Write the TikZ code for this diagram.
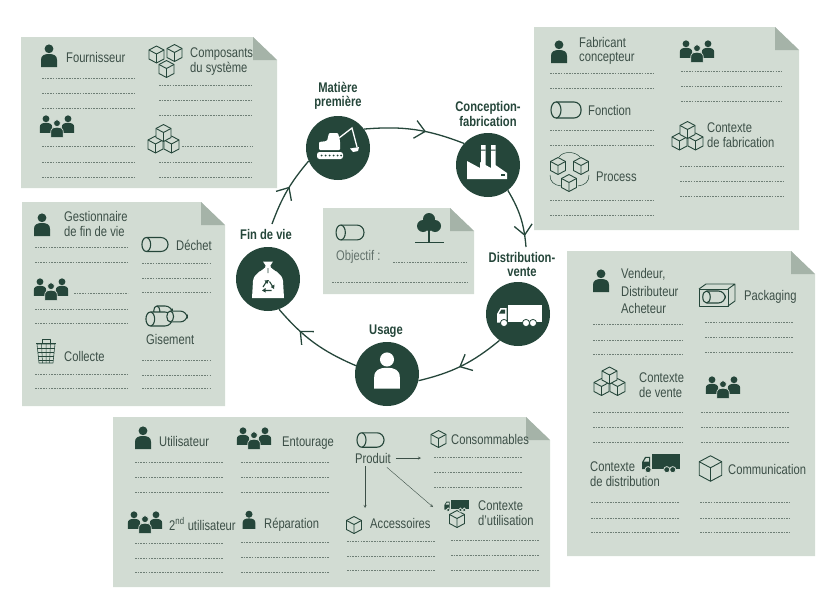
\documentclass[tikz,border=0pt]{standalone}
\usepackage{fontspec}
\setmainfont{Liberation Sans}[FakeStretch=0.8]
\usetikzlibrary{decorations.markings}

\definecolor{dark}{HTML}{25463A}
\definecolor{paper}{HTML}{D2DCD3}
\definecolor{fold}{HTML}{A5B3A8}
\definecolor{ink}{HTML}{3C4F47}
\definecolor{rulecol}{HTML}{6E7E75}

\tikzset{
	>=stealth,
	lbl/.style={anchor=west, inner sep=0pt, align=left, text=ink, font=\fontsize{14}{14.5}\selectfont},
	stagelbl/.style={inner sep=0pt, align=center, text=dark, font=\fontsize{14}{14.5}\selectfont\bfseries},
	stage/.style={circle, fill=dark, inner sep=0pt, minimum size=64pt},
	cyc/.style={draw=dark, line width=1.3pt, decoration={markings, mark=at position #1 with
		{\draw [dark, line width=1.3pt, line join=miter] (-10pt,-9pt) -- (0pt,0pt) -- (-10pt,9pt);}}, postaction={decorate}},
	rule/.style={draw=rulecol, line width=.5pt, dash pattern=on 1.6pt off 1.1pt},
	ico/.style={draw=dark, line width=.9pt, line join=round},
	dk/.style={fill=dark},
	person/.pic={
		\path [pic actions] (0,-7.2) circle (4.4);
		\path [pic actions] (-8,11) -- (-8,4) .. controls (-8,-.5) and (-5,-2) .. (0,-2)
			.. controls (5,-2) and (8,-.5) .. (8,4) -- (8,11) -- cycle;
	},
	crowd/.pic={
		\pic [dk, scale=.78] at (-11,-2.6) {person};
		\pic [dk, scale=.78] at (11,-2.6) {person};
		\pic [dk, draw=paper, line width=.7pt, scale=.78] at (0,1.8) {person};
	},
	cube/.pic={
		\draw [ico, fill=paper] (0,-8.5)--(7.5,-4.5)--(7.5,4.5)--(0,8.5)--(-7.5,4.5)--(-7.5,-4.5)--cycle;
		\draw [ico] (-7.5,-4.5)--(0,-.5)--(7.5,-4.5) (0,-.5)--(0,8.5);
	},
	stack/.pic={
		\pic at (-8,5.5) {cube};
		\pic at (8,5.5) {cube};
		\pic at (0,-6) {cube};
	},
	cyl/.pic={
		\draw [ico, line width=1.1pt, fill=paper, rounded corners=7pt] (-10,-8) -- (15,-8) -- (15,8) -- (-10,8);
		\draw [ico, line width=1.1pt, fill=paper] (-10,0) ellipse (5 and 8);
	},
	pics/truck/.style 2 args={code={
		\fill [#1] (-10,-9) rectangle (24,8);
		\fill [#1] (-21,8.5) -- (-21,0) -- (-17.5,-6) -- (-11.5,-6) -- (-11.5,8.5) -- cycle;
		\fill [#2] (-19,-.5) -- (-16.5,-4.5) -- (-13,-4.5) -- (-13,-.5) -- cycle;
		\foreach \wx in {-14,8,15}
			\draw [fill=#1, draw=#2, line width=.8pt] (\wx,9) circle (3.6);
	}},
}
\newcommand\sheet[4]{
	\fill [paper] (#1,#2) -- ({#3-24},#2) -- (#3,{#2+23}) -- (#3,#4) -- (#1,#4) -- cycle;
	\fill [fold] ({#3-24},#2) -- (#3,{#2+23}) -- ({#3-24},{#2+23}) -- cycle;
}

\begin{document}
\begin{tikzpicture}[x=1pt,y=-1pt]
	\useasboundingbox (0,0) rectangle (836,608);

	\sheet{21}{37}{277}{188}
	\sheet{534}{27}{799}{230}
	\sheet{22}{202}{225}{406}
	\sheet{323}{208}{474}{294}
	\sheet{113}{417}{550}{587}
	\sheet{567}{251}{815}{556}

	\foreach \xa/\xb/\yy in {
		42/135/78, 42/135/93, 42/135/108, 42/135/146, 42/135/162, 42/135/177,
		159/253/85, 159/253/100, 159/253/115, 182/253/146, 159/253/162, 159/253/177,
		550/654/73, 550/654/88, 550/654/130, 550/654/145, 550/654/200, 550/654/215,
		681/782/71, 681/782/86, 681/782/101, 680/785/166, 680/785/181, 680/785/196,
		35/128/247, 35/128/262, 74/128/293, 35/128/309, 35/128/323, 35/128/374, 35/128/388,
		142/211/263, 142/211/278, 142/211/292, 142/211/360, 142/211/375, 142/211/388,
		393/466/262, 332/468/282,
		135/224/462, 135/224/477, 135/224/492, 135/224/543, 135/224/558, 135/224/572,
		241/330/462, 241/330/477, 241/330/492, 241/330/542, 241/330/557, 241/330/572,
		434/523/457, 434/523/472, 434/523/487,
		347/436/541, 347/436/556, 347/436/570,
		451/540/540, 451/540/555, 451/540/570,
		593/683/324, 593/683/340, 593/683/354, 593/683/412, 593/683/427, 593/683/442,
		705/794/322, 705/794/337, 705/794/352,
		701/790/412, 701/790/427, 701/790/442,
		591/680/502, 591/680/518, 591/680/532,
		700/790/502, 700/790/518, 700/790/532
	}
		\draw [rule] (\xa,\yy) -- (\xb,\yy);

	\node at (338,148) [stage] (mat) {};
	\node at (488,165) [stage] (conc) {};
	\node at (518,314) [stage] (dist) {};
	\node at (387,374) [stage] (usage) {};
	\node at (268,279) [stage] (fin) {};

	\node at (338,96) [stagelbl] (matl) {Matière\\première};
	\node at (488,114) [stagelbl] (concl) {Conception-\\fabrication};
	\node at (522,264.5) [stagelbl] (distl) {Distribution-\\vente};
	\node at (386,331) [stagelbl] (usagel) {Usage};
	\node at (266,234) [stagelbl] (finl) {Fin de vie};

	\coordinate (distin) at (526,247);
	\coordinate (finout) at (272,224);
	\draw [cyc=.6] (mat.36) to [bend left=13] (conc.138);
	\draw [cyc=.8] (conc.-52) to [bend left=13] (distin);
	\draw [cyc=.52] (dist.-125) to [bend left=13] (usage.-12);
	\draw [cyc=.68] (usage.165) to [bend left=13] (fin.-70);
	\draw [cyc=.55] (finout) to [bend left=10] (mat.-156);

	% excavator
	\begin{scope}[shift={(mat.center)}]
		\fill [white, rounded corners=2.5pt] (-21,4) rectangle (5,11);
		\foreach \dx in {-16.5,-12.5,-8.5,-4.5,-.5,3}
			\fill [dark] (\dx,7.5) circle (1);
		\fill [white, rounded corners=1pt] (-19,2) -- (-19,-6) -- (-11,-7) -- (-9,-15) -- (0,-15) -- (2,-7) -- (2,2) -- cycle;
		\draw [white, line width=1.3pt] (1,-10) -- (14,-20) -- (19,-1);
		\fill [white] (12,.5) -- (21,-1) -- (20,3) -- (15,4) -- cycle;
	\end{scope}

	% factory
	\begin{scope}[shift={(conc.center)}]
		\fill [white] (-21,14) -- (-21,-4) -- (-8,3) -- (-8,-3) -- (3,3) -- (3,-3) -- (19,8) -- (19,14) -- cycle;
		\fill [white] (-7,-20) rectangle (-2.5,3) (3,-20) rectangle (7.5,3);
		\fill [dark] (-7,-15.5) rectangle (-2.5,-14.5) (3,-15.5) rectangle (7.5,-14.5);
		\fill [dark] (13,9) rectangle (17,11);
	\end{scope}

	\pic at (dist.center) {truck={white}{dark}};

	\pic [fill=white, scale=1.6] at ([yshift=3pt]usage.center) {person};

	% bag
	\begin{scope}[shift={(fin.center)}]
		\fill [white] (-2,-13) .. controls (-6,-8) and (-14,-6) .. (-15,2) -- (-16,19) -- (16,19) -- (15,2) .. controls (14,-6) and (6,-8) .. (2,-13) -- cycle;
		\fill [white] (-5,-17.5) -- (5,-17.5) -- (1.5,-12) -- (-1.5,-12) -- cycle;
		\draw [dark, line width=.6pt] (-8,-8) -- (-3,-12) (8,-8) -- (3,-12) (0,-6) -- (0,-11);
		\draw [dark, line width=1.1pt] (-5,8) -- (-1.5,2.5) (1.5,2.5) -- (5,8) (3.5,11.5) -- (-3.5,11.5);
		\fill [dark] (-3.5,1.5) -- (1,1) -- (-.8,5) -- cycle (6.5,5.5) -- (6,10) -- (2.8,8) -- cycle (-6,11.5) -- (-2.5,9) -- (-2.5,13.5) -- cycle;
	\end{scope}

	\node at (66,57) [lbl] (four) {Fournisseur};
	\node at (190,61.5) [lbl] (comp) {Composants\\du système};
	\node at (579,51) [lbl] (fab) {Fabricant\\concepteur};
	\node at (588,110) [lbl] (fonc) {Fonction};
	\node at (596,177) [lbl] (proc) {Process};
	\node at (707,135) [lbl] (ctxfab) {Contexte\\de fabrication};
	\node at (64,224) [lbl] (gest) {Gestionnaire\\de fin de vie};
	\node at (176,245) [lbl] (dech) {Déchet};
	\node at (146,339) [lbl] (gis) {Gisement};
	\node at (64,356) [lbl] (coll) {Collecte};
	\node at (336,257) [lbl, text=ink!80] (obj) {Objectif :};
	\node at (159,441) [lbl] (util) {Utilisateur};
	\node at (282,443) [lbl] (ento) {Entourage};
	\node at (355,458) [lbl] (prod) {Produit};
	\node at (451,439) [lbl] (cons) {Consommables};
	\node at (169,524) [lbl] (util2) {2\textsuperscript{nd} utilisateur};
	\node at (264,524.5) [lbl] (repa) {Réparation};
	\node at (370,523) [lbl] (acc) {Accessoires};
	\node at (478,513) [lbl] (ctxut) {Contexte\\d'utilisation};
	\node at (621,291) [lbl] (vend) {Vendeur,\\[3pt]Distributeur\\[3pt]Acheteur};
	\node at (744,296.5) [lbl] (pack) {Packaging};
	\node at (639,385) [lbl] (ctxv) {Contexte\\de vente};
	\node at (590,474) [lbl] (ctxd) {Contexte\\de distribution};
	\node at (728,469) [lbl] (comm) {Communication};

	\coordinate (consin) at (421,458);
	\coordinate (accin) at (365,508);
	\coordinate (ctxin) at (433,507);
	\draw [->, draw=ink] (prod.east) ++(5,0) -- (consin);
	\draw [->, draw=ink] (prod.south-|accin) ++(0,3) -- (accin);
	\draw [->, draw=ink] ([xshift=-4pt,yshift=-4pt]prod.south east) -- (ctxin);

	\pic [dk] at (49,56) {person};
	\pic [dk] at (559,52) {person};
	\pic [dk] at (42,225) {person};
	\pic [dk] at (143,438) {person};
	\pic [dk, scale=.8] at (249,520) {person};
	\pic [dk] at (601,281) {person};

	\pic at (57,127) {crowd};
	\pic at (697,52) {crowd};
	\pic at (51,290) {crowd};
	\pic at (254,439) {crowd};
	\pic at (145,523) {crowd};
	\pic at (723,388) {crowd};

	\pic at (156.5,54.5) {cube};
	\pic at (174.5,53) {cube};
	\pic at (166.5,69) {cube};
	\pic at (438.5,439) {cube};
	\pic at (354,525) {cube};
	\pic at (457,519) {cube};
	\pic [scale=1.5] at (710.5,468.5) {cube};

	\pic at (163.5,139) {stack};
	\pic at (687.5,136) {stack};
	\pic at (609.5,381.5) {stack};

	\pic at (558,166) {cube};
	\pic at (581,166) {cube};
	\pic at (569,183) {cube};
	\draw [ico, line width=.5pt] (559,157) .. controls (563,151) and (575,151) .. (580,157);
	\draw [ico, line width=.5pt] (550,175) .. controls (550,182) and (554,185) .. (561,186);
	\draw [ico, line width=.5pt] (589,175) .. controls (589,182) and (585,185) .. (578,186);

	\pic at (566,110) {cyl};
	\pic [scale=.87] at (155,244.5) {cyl};
	\pic [scale=.93] at (350,232.5) {cyl};
	\pic [scale=.9] at (370.5,440) {cyl};
	\pic [scale=.62] at (163,311) {cyl};
	\pic [scale=.87] at (159,319) {cyl};
	\pic [scale=.68] at (177,316.5) {cyl};

	% packaging
	\begin{scope}[shift={(717,295)}]
		\draw [ico] (-18,-6) rectangle (11,11);
		\draw [ico] (-18,-6) -- (-11,-11) -- (18,-11) -- (18,6) -- (11,11) (11,-6) -- (18,-11);
		\pic [scale=.75] at (-3,2) {cyl};
	\end{scope}

	% bin
	\begin{scope}[shift={(46,351)}]
		\draw [ico] (-10,-8) -- (10,-8) (-4,-8) -- (-4,-12) -- (4,-12) -- (4,-8);
		\draw [ico, line width=.6pt] (-9,-7) -- (-7,12) -- (7,12) -- (9,-7) -- cycle;
		\draw [ico, line width=.5pt] (-4.5,-7) -- (-3.5,12) (0,-7) -- (0,12) (4.5,-7) -- (3.5,12);
		\draw [ico, line width=.5pt] (-8.6,-3) -- (8.6,-3) (-8.2,1) -- (8.2,1) (-7.8,5) -- (7.8,5) (-7.4,9) -- (7.4,9);
	\end{scope}

	% tree
	\begin{scope}[shift={(429,213)}]
		\fill [dark] (0,6) circle (6) (-6,13) circle (6) (6,13) circle (6) (0,12) circle (6);
		\fill [dark] (-1,15) rectangle (1,29);
		\draw [dark, line width=.9pt] (-14,29) -- (15,29);
	\end{scope}

	\pic [scale=.85] at (660,462) {truck={dark}{paper}};
	\pic [scale=.55] at (456,505) {truck={dark}{paper}};
\end{tikzpicture}
\end{document}
